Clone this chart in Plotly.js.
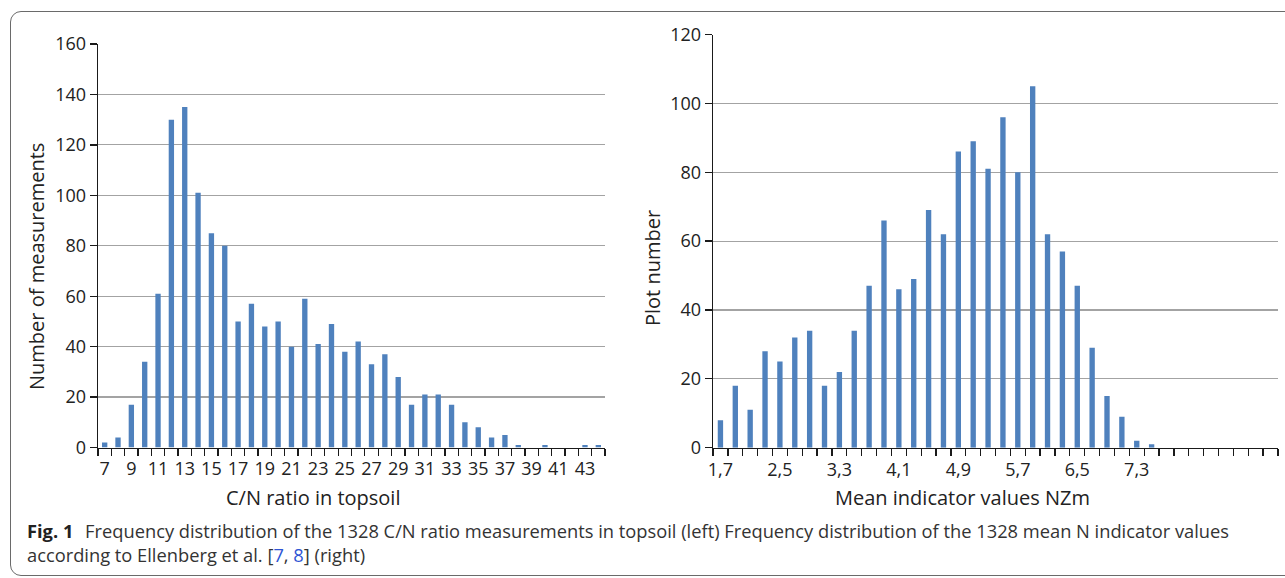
<!DOCTYPE html>
<html>
<head>
<meta charset="utf-8">
<script src="https://cdn.plot.ly/plotly-3.0.1.min.js"></script>
<style>
  html, body { margin: 0; padding: 0; background: #fff; }
  #wrap { position: relative; width: 1285px; height: 578px; overflow: hidden; }
  #chart { position: absolute; left: 0; top: 0; width: 1285px; height: 578px; }
  #frame { position: absolute; left: 10px; top: 11px; width: 1300px; height: 565px;
           border: 1px solid #6a6a6a; border-radius: 11px; box-sizing: border-box; pointer-events: none; }
  #caption { position: absolute; left: 27px; top: 519px; width: 1255px; white-space: nowrap;
             font-family: "Open Sans", sans-serif; font-size: 18.3px; line-height: 24px; color: #333; }
  #caption b { color: #222; font-weight: 700; margin-right: 7px; }
  #caption a { color: #2f55d4; text-decoration: none; }
</style>
</head>
<body>
<div id="wrap">
  <div id="chart"></div>
  <div id="frame"></div>
  <div id="caption"><b>Fig. 1</b> Frequency distribution of the 1328 C/N ratio measurements in topsoil (left) Frequency distribution of the 1328 mean N indicator values<br>according to Ellenberg et al. [<a>7</a>, <a>8</a>] (right)</div>
</div>
<script>
// Left chart: C/N ratio in topsoil
const cnRatio = [7,8,9,10,11,12,13,14,15,16,17,18,19,20,21,22,23,24,25,26,27,28,29,30,31,32,33,34,35,36,37,38,39,40,41,42,43,44];
const cnCounts = [2,4,17,34,61,130,135,101,85,80,50,57,48,50,40,59,41,49,38,42,33,37,28,17,21,21,17,10,8,4,5,1,0,1,0,0,1,1];
const cnTickVals = [7,9,11,13,15,17,19,21,23,25,27,29,31,33,35,37,39,41,43];

// Right chart: mean N indicator values
const nzmValues = [1.7,1.9,2.1,2.3,2.5,2.7,2.9,3.1,3.3,3.5,3.7,3.9,4.1,4.3,4.5,4.7,4.9,5.1,5.3,5.5,5.7,5.9,6.1,6.3,6.5,6.7,6.9,7.1,7.3,7.5,7.7,7.9,8.1,8.3,8.5,8.7,8.9,9.1];
const nzmCounts = [8,18,11,28,25,32,34,18,22,34,47,66,46,49,69,62,86,89,81,96,80,105,62,57,47,29,15,9,2,1,0,0,0,0,0,0,0,0];
const nzmTickVals = [1.7,2.5,3.3,4.1,4.9,5.7,6.5,7.3];
const nzmTickText = ["1,7","2,5","3,3","4,1","4,9","5,7","6,5","7,3"];

const leftXTitle = "C/N ratio in topsoil";
const leftYTitle = "Number of measurements";
const rightXTitle = "Mean indicator values NZm";
const rightYTitle = "Plot number";

const barColor = "#4f81bd";
const FONT = "Open Sans, sans-serif";
const tickFont = { family: FONT, size: 18, color: "#222" };
const titleFont = { family: FONT, size: 20, color: "#222" };

const traces = [
  { type: "bar", x: cnRatio, y: cnCounts, xaxis: "x", yaxis: "y",
    marker: { color: barColor }, width: 0.4, hoverinfo: "x+y" },
  { type: "bar", x: nzmValues, y: nzmCounts, xaxis: "x2", yaxis: "y2",
    marker: { color: barColor }, width: 0.072, hoverinfo: "x+y" }
];

function H(px) { return px / 1285; }
function V(py) { return 1 - py / 578; }

const baseX = {
  showgrid: false, zeroline: false, showline: true, linecolor: "#1a1a1a", linewidth: 1.3,
  ticks: "", tickfont: tickFont, fixedrange: true, ticklabelstandoff: 5
};
const baseY = {
  showgrid: true, gridcolor: "#a3a3a3", gridwidth: 1.2, zeroline: false,
  showline: true, linecolor: "#1a1a1a", linewidth: 1.3,
  ticks: "outside", ticklen: 7, tickcolor: "#1a1a1a", tickwidth: 1.3,
  tickfont: tickFont, fixedrange: true
};

const layout = {
  width: 1285, height: 578,
  margin: { l: 0, r: 0, t: 0, b: 0 },
  paper_bgcolor: "#fff", plot_bgcolor: "#fff",
  showlegend: false,
  separators: ", ",
  font: { family: FONT, color: "#222" },
  xaxis: Object.assign({}, baseX, {
    domain: [H(98), H(605)], anchor: "y",
    range: [6.5, 44.5], tickmode: "array", tickvals: cnTickVals,
    minor: { ticks: "outside", ticklen: 7, tickcolor: "#1a1a1a", tickwidth: 1.3, tick0: 6.5, dtick: 1, showgrid: false }
  }),
  yaxis: Object.assign({}, baseY, {
    domain: [V(447.5), V(44)], anchor: "x",
    range: [0, 160], tickmode: "linear", tick0: 0, dtick: 20
  }),
  xaxis2: Object.assign({}, baseX, {
    domain: [H(713), H(1278)], anchor: "y2",
    range: [1.6, 9.2001], tickmode: "array", tickvals: nzmTickVals, ticktext: nzmTickText,
    minor: { ticks: "outside", ticklen: 7, tickcolor: "#1a1a1a", tickwidth: 1.3, tick0: 1.6, dtick: 0.2, showgrid: false }
  }),
  yaxis2: Object.assign({}, baseY, {
    domain: [V(447.7), V(34.5)], anchor: "x2",
    range: [0, 120], tickmode: "linear", tick0: 0, dtick: 20
  }),
  annotations: [
    { text: leftXTitle, xref: "paper", yref: "paper", x: H(313), y: V(497), showarrow: false,
      xanchor: "center", yanchor: "middle", font: titleFont },
    { text: rightXTitle, xref: "paper", yref: "paper", x: H(962), y: V(497), showarrow: false,
      xanchor: "center", yanchor: "middle", font: titleFont },
    { text: leftYTitle, xref: "paper", yref: "paper", x: H(36), y: V(267), showarrow: false, textangle: -90,
      xanchor: "center", yanchor: "middle", font: titleFont },
    { text: rightYTitle, xref: "paper", yref: "paper", x: H(652), y: V(268), showarrow: false, textangle: -90,
      xanchor: "center", yanchor: "middle", font: titleFont }
  ]
};

Plotly.newPlot("chart", traces, layout, { displayModeBar: false, staticPlot: true });
</script>
</body>
</html>
